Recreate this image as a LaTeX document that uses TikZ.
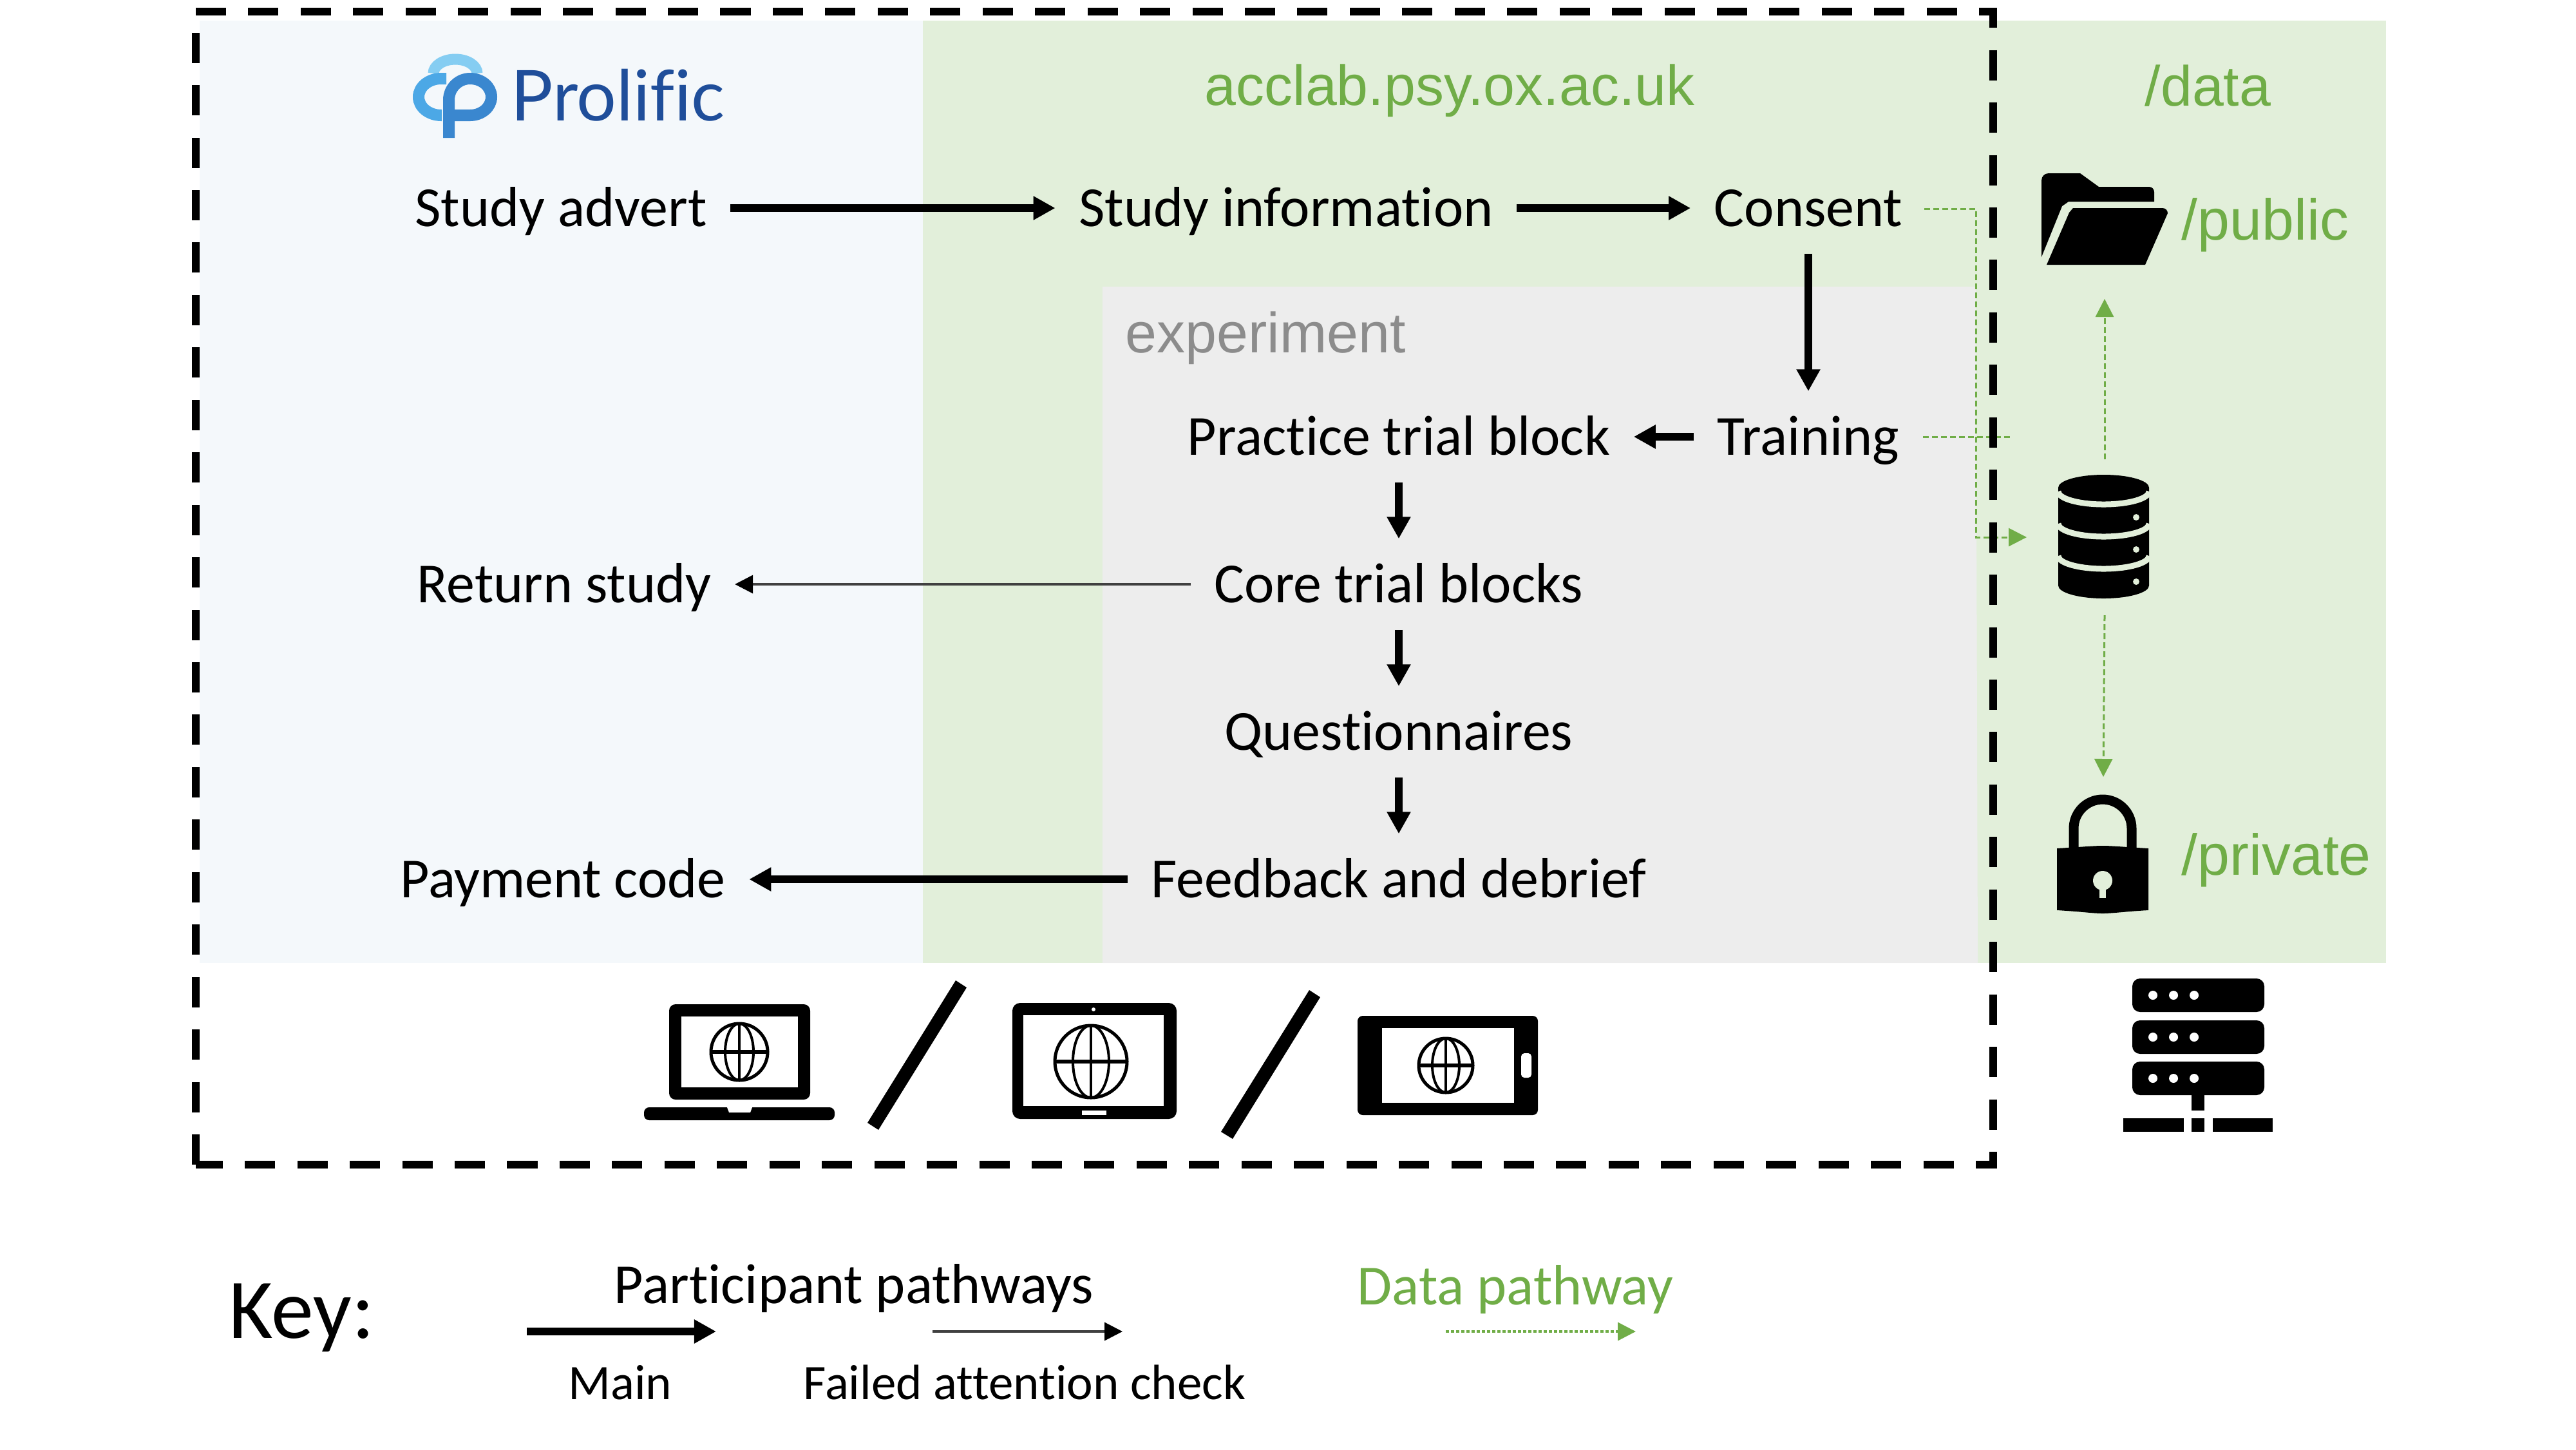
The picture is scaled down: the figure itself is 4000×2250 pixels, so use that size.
\documentclass[tikz,border=0pt]{standalone}
\usepackage{fontspec}
\usepackage{xcolor}
\usetikzlibrary{arrows.meta}
\setmainfont[Ligatures=NoCommon]{Carlito}
\newfontfamily\arialfont{Liberation Sans}
\newfontfamily\logofont[Ligatures=NoCommon]{Lato}
\definecolor{bluepanel}{HTML}{F4F8FB}
\definecolor{greenpanel}{HTML}{E2EFDA}
\definecolor{greypanel}{HTML}{EDEDED}
\definecolor{datagreen}{HTML}{70AD47}
\definecolor{logodark}{HTML}{1F4E9A}
\definecolor{logomid}{HTML}{3A87CF}
\definecolor{logolight}{HTML}{4CA8E6}
\definecolor{logopale}{HTML}{85CDF2}
\tikzset{
  stepnode/.style={font=\fontsize{25}{30}\selectfont, inner xsep=0.36cm, inner ysep=0pt,
    minimum height=1.4cm, text height=0.66cm, text depth=0.1cm},
  mainpath/.style={line width=0.12cm, -{Triangle[length=0.34cm,width=0.35cm]}},
  failpath/.style={black!75, line width=0.035cm, -{Triangle[length=0.28cm,width=0.28cm,black]}},
  datapath/.style={datagreen, line width=0.03cm, dash pattern=on 0.09cm off 0.05cm,
    -{Triangle[length=0.28cm,width=0.28cm]}},
  datatext/.style={font=\arialfont\fontsize{25}{30}\selectfont, text=datagreen, inner sep=0pt, anchor=base west},
  keytext/.style={font=\fontsize{21.9}{26}\selectfont, inner sep=0pt, anchor=base},
  icon/.style={fill=black, draw=none}
}
\begin{document}
\begin{tikzpicture}[x=0.01cm, y=-0.01cm]
  \useasboundingbox (0,0) rectangle (4000,2250);

  % panels
  \fill[bluepanel] (310,32) rectangle (1433,1495);
  \fill[greenpanel] (1433,32) rectangle (3705,1495);
  \fill[greypanel] (1712,445) -- (3068,445) -- (3071,1495) -- (1712,1495) -- cycle;

  % logo
  \draw[logopale, line width=0.17cm] (673,114) arc[start angle=180, end angle=360, x radius=34, y radius=22];
  \draw[logolight, line width=0.18cm] (693,122) -- (685,122) arc[start angle=270, end angle=90, x radius=35, y radius=28.5] -- (686,179);
  \draw[logomid, line width=0.18cm] (697,214) -- (697,155) arc[start angle=180, end angle=270, radius=33]
    arc[start angle=270, end angle=450, x radius=33, y radius=28.5] -- (706,179);
  \node[inner sep=0pt, anchor=base west, font=\logofont\fontsize{31}{36}\selectfont, text=logodark] (logoname) at (793,187) {Prolific};

  % steps
  \node[stepnode] (advert) at (871,323) {Study advert};
  \node[stepnode] (info) at (1997,323) {Study information};
  \node[stepnode] (consent) at (2808,323) {Consent};
  \node[stepnode] (training) at (2808,678) {Training};
  \node[stepnode] (practice) at (2172,678) {Practice trial block};
  \node[stepnode] (core) at (2172,907) {Core trial blocks};
  \node[stepnode] (quest) at (2172,1136) {Questionnaires};
  \node[stepnode] (feedback) at (2172,1365) {Feedback and debrief};
  \node[stepnode] (return) at (876,907) {Return study};
  \node[stepnode] (payment) at (874,1365) {Payment code};
  \node[inner sep=0pt, anchor=base west, text=black!45, font=\arialfont\fontsize{25}{30}\selectfont] (exper) at (1747,547) {experiment};
  \node[datatext] (site) at (1870,163) {acclab.psy.ox.ac.uk};
  \node[datatext] (datadir) at (3330,164) {/data};
  \node[datatext, font=\arialfont\fontsize{25.5}{30}\selectfont] (publicdir) at (3387,372) {/public};
  \node[datatext, font=\arialfont\fontsize{25.5}{30}\selectfont] (privatedir) at (3387,1358) {/private};

  \draw[mainpath] (advert) -- (info);
  \draw[mainpath] (info) -- (consent);
  \draw[mainpath] (consent) -- (training);
  \draw[mainpath] (training) -- (practice);
  \draw[mainpath] (practice) -- (core);
  \draw[mainpath] (core) -- (quest);
  \draw[mainpath] (quest) -- (feedback);
  \draw[mainpath] (feedback) -- (payment);
  \draw[failpath] (core) -- (return);

  % folder
  \fill[icon] (3170,399) -- (3170,280) arc[start angle=180, end angle=270, radius=11] -- (3230,269) -- (3259,290) -- (3337,290)
    arc[start angle=270, end angle=360, radius=8] -- (3345,313) -- (3212,313) -- (3202,320) -- cycle;
  \fill[icon] (3178,411) -- (3213,330) -- (3219,323) -- (3358,323) arc[start angle=270, end angle=360, radius=8] -- (3331,411) -- cycle;

  % database
  \fill[icon] (3196,757) arc[start angle=180, end angle=360, x radius=70.5, y radius=20] -- (3337,909)
    arc[start angle=0, end angle=180, x radius=70.5, y radius=20] -- cycle;
  \fill[icon] (3196,757) arc[start angle=180, end angle=0, x radius=70.5, y radius=20] -- cycle;
  \foreach \y in {763,813,863} {
    \draw[greenpanel, line width=0.09cm] (3196,\y) arc[start angle=180, end angle=0, x radius=70.5, y radius=20];
  }
  \foreach \y in {803,853,903} { \fill[greenpanel] (3317,\y) circle[radius=5]; }

  % data connectors
  \coordinate (dbside) at (3147,834);
  \coordinate (dbtop) at (3268,713);
  \coordinate (dbbot) at (3268,955);
  \coordinate (folderbot) at (3268,464);
  \coordinate (lockup) at (3266,1206);
  \coordinate (consentout) at (2988,324);
  \coordinate (trainingout) at (2986,678);
  \coordinate (trainingend) at (3124,678);
  \draw[datapath] (consentout) -- (3068,324) -- (3068,834) -- (dbside);
  \draw[datapath, -] (trainingout) -- (trainingend);
  \draw[datapath] (dbtop) -- (folderbot);
  \draw[datapath] (dbbot) -- (lockup);

  % lock
  \draw[black, line width=0.15cm] (3220,1318) -- (3220,1286) arc[start angle=180, end angle=360, radius=45] -- (3310,1318);
  \fill[icon] (3194,1317) .. controls (3230,1315) and (3250,1313) .. (3265,1313) .. controls (3280,1313) and (3300,1315) .. (3336,1317)
    -- (3336,1413) .. controls (3300,1415) and (3280,1418) .. (3265,1418) .. controls (3250,1418) and (3230,1415) .. (3194,1413) -- cycle;
  \fill[greenpanel] (3265,1367) circle[radius=15];
  \fill[greenpanel] (3260,1370) rectangle (3270,1394);

  % server
  \foreach \y in {1519,1584,1648} {
    \fill[icon, rounded corners=0.12cm] (3311,\y) rectangle (3516,\y+52);
    \foreach \x in {3343,3375,3407} { \fill[white] (\x,\y+26) circle[radius=7]; }
  }
  \fill[icon] (3403,1699) rectangle (3423,1724);
  \fill[icon] (3297,1736) rectangle (3391,1757);
  \fill[icon] (3403,1736) rectangle (3423,1757);
  \fill[icon] (3436,1736) rectangle (3529,1757);

  % devices
  \fill[icon, rounded corners=0.1cm] (1039,1707) -- (1039,1559) -- (1258,1559) -- (1258,1707) -- cycle;
  \fill[white] (1058,1578) rectangle (1239,1688);
  \fill[icon, rounded corners=0.08cm] (1000,1719) -- (1000,1739) -- (1296,1739) -- (1296,1719) -- cycle;
  \fill[white] (1129,1719) -- (1168,1719) -- (1165,1727) -- (1132,1727) -- cycle;
  \fill[icon] (1484,1522) -- (1501,1533) -- (1364,1754) -- (1347,1743) -- cycle;
  \fill[icon, rounded corners=0.12cm] (1572,1557) rectangle (1827,1737);
  \fill[white] (1589,1576) rectangle (1807,1717);
  \fill[white] (1698,1567) circle[radius=3];
  \fill[white] (1680,1724) rectangle (1718,1731);
  \fill[icon] (2033,1537) -- (2050,1548) -- (1914,1768) -- (1896,1757) -- cycle;
  \fill[icon, rounded corners=0.08cm] (2108,1577) rectangle (2388,1731);
  \fill[white] (2146,1596) rectangle (2351,1712);
  \fill[white, rounded corners=0.05cm] (2362,1635) rectangle (2378,1673);

  \foreach \gx/\gy/\gr in {1148/1633/44, 1694/1648/56, 2245/1654/42} {
    \draw[black, line width=0.05cm] (\gx,\gy) circle[radius=\gr];
    \draw[black, line width=0.04cm] (\gx,\gy) ellipse[x radius=0.5*\gr, y radius=\gr];
    \draw[black, line width=0.04cm] (\gx,\gy-\gr) -- (\gx,\gy+\gr);
    \draw[black, line width=0.06cm] (\gx-\gr,\gy) -- (\gx+\gr,\gy);
  }

  % frame
  \draw[black, line width=0.125cm, dash pattern=on 0.47cm off 0.344cm] (304,18) -- (3095,18) -- (3095,1808) -- (304,1808);
  \draw[black, line width=0.125cm, dash pattern=on 0.47cm off 0.344cm] (304,1808) -- (304,18);

  % key
  \node[inner sep=0pt, anchor=base west, font=\fontsize{37.5}{44}\selectfont] (keyname) at (355,2077) {Key:};
  \node[keytext, font=\fontsize{25}{30}\selectfont] (partic) at (1326,2023) {Participant pathways};
  \node[keytext, font=\fontsize{25}{30}\selectfont, text=datagreen] (dataname) at (2353,2025) {Data pathway};
  \node[keytext] (mainname) at (963,2172) {Main};
  \node[keytext] (failname) at (1591,2172) {Failed attention check};
  \coordinate (mainA) at (818,2067);
  \coordinate (mainB) at (1112,2067);
  \coordinate (failA) at (1448,2067);
  \coordinate (failB) at (1743,2067);
  \coordinate (dataA) at (2245,2067);
  \coordinate (dataB) at (2540,2067);
  \draw[mainpath] (mainA) -- (mainB);
  \draw[failpath] (failA) -- (failB);
  \draw[datapath, line width=0.04cm, dash pattern=on 0.05cm off 0.03cm] (dataA) -- (dataB);
\end{tikzpicture}
\end{document}
